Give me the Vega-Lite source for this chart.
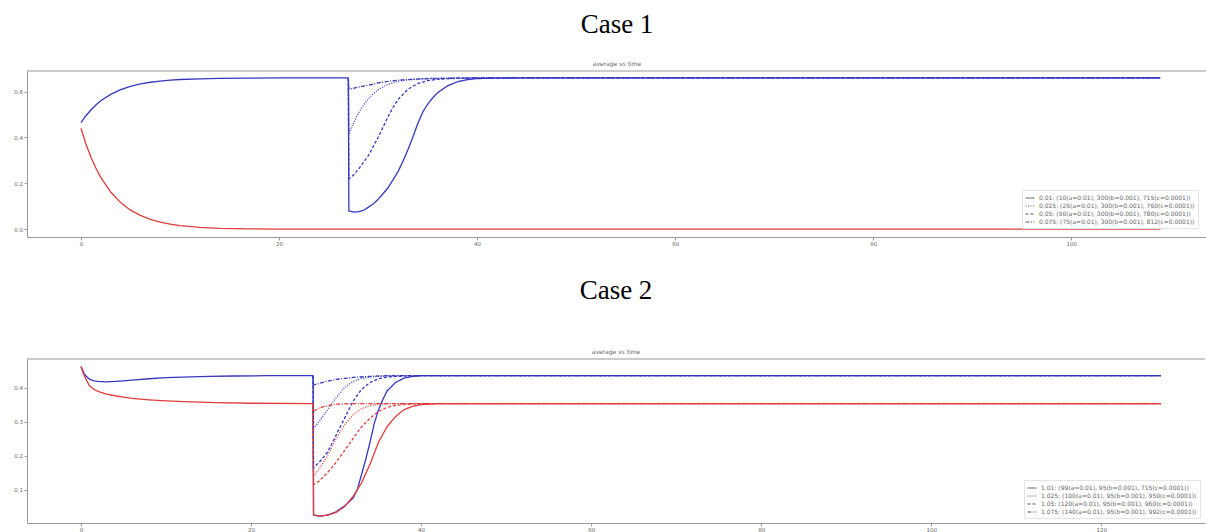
{
  "$schema": "https://vega.github.io/schema/vega-lite/v6.json",
  "background": "white",
  "padding": {"left": 13, "top": 10, "right": 0, "bottom": 0},
  "spacing": 29,
  "config": {
    "view": {"stroke": null},
    "axis": {"grid": false, "title": null, "domainColor": "#999", "tickColor": "#999", "labelColor": "#666", "labelFont": "DejaVu Sans", "labelFontSize": 5.5, "tickSize": 3, "labelPadding": 1.5},
    "legend": {"orient": "bottom-right", "title": null, "labelFont": "DejaVu Sans", "labelFontSize": 6, "labelColor": "#666", "symbolType": "stroke", "symbolSize": 81, "symbolStrokeColor": "#555", "symbolStrokeWidth": 1, "rowPadding": 0, "strokeColor": "#e4e4e4", "padding": 3, "offset": 6, "labelLimit": 400},
    "title": {"font": "Liberation Serif", "fontSize": 27, "fontWeight": "normal", "color": "black", "subtitleFont": "DejaVu Sans", "subtitleFontSize": 6, "subtitleColor": "#666", "subtitlePadding": 22, "offset": 3, "anchor": "middle", "frame": "group"}
  },
  "resolve": {"scale": {"x": "independent", "y": "independent", "color": "independent", "strokeDash": "independent"}, "legend": {"strokeDash": "independent"}},
  "datasets": {
    "base1": [
      {"g":"b","t":0,"v":0.465},{"g":"b","t":0.5,"v":0.495},{"g":"b","t":1,"v":0.52},{"g":"b","t":1.5,"v":0.542},{"g":"b","t":2,"v":0.56},{"g":"b","t":3,"v":0.588},{"g":"b","t":4,"v":0.609},{"g":"b","t":5,"v":0.623},{"g":"b","t":6,"v":0.634},{"g":"b","t":7,"v":0.641},{"g":"b","t":8,"v":0.646},{"g":"b","t":9,"v":0.65},{"g":"b","t":10,"v":0.653},{"g":"b","t":12,"v":0.656},{"g":"b","t":14,"v":0.658},{"g":"b","t":17,"v":0.659},{"g":"b","t":20,"v":0.66},{"g":"b","t":27,"v":0.66},
      {"g":"r","t":0,"v":0.44},{"g":"r","t":0.5,"v":0.372},{"g":"r","t":1,"v":0.315},{"g":"r","t":1.5,"v":0.267},{"g":"r","t":2,"v":0.226},{"g":"r","t":3,"v":0.162},{"g":"r","t":4,"v":0.116},{"g":"r","t":5,"v":0.083},{"g":"r","t":6,"v":0.06},{"g":"r","t":7,"v":0.043},{"g":"r","t":8,"v":0.031},{"g":"r","t":9,"v":0.022},{"g":"r","t":10,"v":0.016},{"g":"r","t":12,"v":0.008},{"g":"r","t":14,"v":0.004},{"g":"r","t":17,"v":0.0015},{"g":"r","t":20,"v":0.0005},{"g":"r","t":27,"v":0},{"g":"r","t":60,"v":0},{"g":"r","t":109,"v":0}
    ],
    "scen1": [
      {"g":"b","s":"a","t":27,"v":0.66},{"g":"b","s":"a","t":27.05,"v":0.08},{"g":"b","s":"a","t":27.5,"v":0.075},{"g":"b","s":"a","t":28,"v":0.076},{"g":"b","s":"a","t":28.5,"v":0.082},{"g":"b","s":"a","t":29,"v":0.095},{"g":"b","s":"a","t":29.5,"v":0.11},{"g":"b","s":"a","t":30,"v":0.13},{"g":"b","s":"a","t":30.5,"v":0.155},{"g":"b","s":"a","t":31,"v":0.18},{"g":"b","s":"a","t":31.5,"v":0.215},{"g":"b","s":"a","t":32,"v":0.25},{"g":"b","s":"a","t":32.5,"v":0.295},{"g":"b","s":"a","t":33,"v":0.345},{"g":"b","s":"a","t":33.5,"v":0.4},{"g":"b","s":"a","t":34,"v":0.46},{"g":"b","s":"a","t":34.5,"v":0.51},{"g":"b","s":"a","t":35,"v":0.545},{"g":"b","s":"a","t":35.5,"v":0.572},{"g":"b","s":"a","t":36,"v":0.595},{"g":"b","s":"a","t":37,"v":0.625},{"g":"b","s":"a","t":38,"v":0.643},{"g":"b","s":"a","t":39,"v":0.652},{"g":"b","s":"a","t":40,"v":0.657},{"g":"b","s":"a","t":42,"v":0.659},{"g":"b","s":"a","t":45,"v":0.66},{"g":"b","s":"a","t":109,"v":0.66},
      {"g":"b","s":"b","t":27,"v":0.66},{"g":"b","s":"b","t":27.05,"v":0.42},{"g":"b","s":"b","t":27.5,"v":0.46},{"g":"b","s":"b","t":28,"v":0.505},{"g":"b","s":"b","t":28.5,"v":0.54},{"g":"b","s":"b","t":29,"v":0.568},{"g":"b","s":"b","t":29.5,"v":0.59},{"g":"b","s":"b","t":30,"v":0.608},{"g":"b","s":"b","t":31,"v":0.632},{"g":"b","s":"b","t":32,"v":0.645},{"g":"b","s":"b","t":33,"v":0.652},{"g":"b","s":"b","t":35,"v":0.658},{"g":"b","s":"b","t":38,"v":0.66},{"g":"b","s":"b","t":109,"v":0.66},
      {"g":"b","s":"c","t":27,"v":0.66},{"g":"b","s":"c","t":27.05,"v":0.22},{"g":"b","s":"c","t":27.5,"v":0.235},{"g":"b","s":"c","t":28,"v":0.26},{"g":"b","s":"c","t":28.5,"v":0.29},{"g":"b","s":"c","t":29,"v":0.32},{"g":"b","s":"c","t":29.5,"v":0.36},{"g":"b","s":"c","t":30,"v":0.4},{"g":"b","s":"c","t":30.5,"v":0.445},{"g":"b","s":"c","t":31,"v":0.49},{"g":"b","s":"c","t":31.5,"v":0.53},{"g":"b","s":"c","t":32,"v":0.565},{"g":"b","s":"c","t":33,"v":0.61},{"g":"b","s":"c","t":34,"v":0.635},{"g":"b","s":"c","t":35,"v":0.648},{"g":"b","s":"c","t":36,"v":0.654},{"g":"b","s":"c","t":38,"v":0.658},{"g":"b","s":"c","t":40,"v":0.66},{"g":"b","s":"c","t":109,"v":0.66},
      {"g":"b","s":"d","t":27,"v":0.66},{"g":"b","s":"d","t":27.05,"v":0.61},{"g":"b","s":"d","t":28,"v":0.62},{"g":"b","s":"d","t":29,"v":0.628},{"g":"b","s":"d","t":30,"v":0.638},{"g":"b","s":"d","t":31,"v":0.645},{"g":"b","s":"d","t":32,"v":0.65},{"g":"b","s":"d","t":34,"v":0.655},{"g":"b","s":"d","t":37,"v":0.658},{"g":"b","s":"d","t":40,"v":0.66},{"g":"b","s":"d","t":109,"v":0.66}
    ],
    "base2": [
      {"g":"b","t":0,"v":0.462},{"g":"b","t":0.3,"v":0.445},{"g":"b","t":0.6,"v":0.433},{"g":"b","t":1,"v":0.425},{"g":"b","t":1.5,"v":0.42},{"g":"b","t":2,"v":0.418},{"g":"b","t":3,"v":0.417},{"g":"b","t":4,"v":0.418},{"g":"b","t":5,"v":0.42},{"g":"b","t":6,"v":0.422},{"g":"b","t":8,"v":0.426},{"g":"b","t":10,"v":0.429},{"g":"b","t":12,"v":0.431},{"g":"b","t":15,"v":0.433},{"g":"b","t":18,"v":0.434},{"g":"b","t":22,"v":0.435},{"g":"b","t":27.3,"v":0.435},
      {"g":"r","t":0,"v":0.462},{"g":"r","t":0.3,"v":0.44},{"g":"r","t":0.6,"v":0.424},{"g":"r","t":1,"v":0.405},{"g":"r","t":1.5,"v":0.395},{"g":"r","t":2,"v":0.389},{"g":"r","t":3,"v":0.381},{"g":"r","t":4,"v":0.376},{"g":"r","t":5,"v":0.372},{"g":"r","t":6,"v":0.368},{"g":"r","t":8,"v":0.364},{"g":"r","t":10,"v":0.361},{"g":"r","t":13,"v":0.358},{"g":"r","t":16,"v":0.356},{"g":"r","t":20,"v":0.354},{"g":"r","t":27.3,"v":0.353}
    ],
    "scen2": [
      {"g":"b","s":"a","t":27.3,"v":0.435},{"g":"b","s":"a","t":27.35,"v":0.026},{"g":"b","s":"a","t":28,"v":0.022},{"g":"b","s":"a","t":29,"v":0.025},{"g":"b","s":"a","t":30,"v":0.035},{"g":"b","s":"a","t":31,"v":0.052},{"g":"b","s":"a","t":32,"v":0.075},{"g":"b","s":"a","t":32.5,"v":0.1},{"g":"b","s":"a","t":33,"v":0.145},{"g":"b","s":"a","t":33.5,"v":0.19},{"g":"b","s":"a","t":34,"v":0.24},{"g":"b","s":"a","t":34.5,"v":0.295},{"g":"b","s":"a","t":35,"v":0.335},{"g":"b","s":"a","t":35.5,"v":0.365},{"g":"b","s":"a","t":36,"v":0.39},{"g":"b","s":"a","t":37,"v":0.415},{"g":"b","s":"a","t":38,"v":0.428},{"g":"b","s":"a","t":39,"v":0.433},{"g":"b","s":"a","t":40,"v":0.435},{"g":"b","s":"a","t":127,"v":0.435},
      {"g":"r","s":"a","t":27.3,"v":0.353},{"g":"r","s":"a","t":27.35,"v":0.026},{"g":"r","s":"a","t":28,"v":0.022},{"g":"r","s":"a","t":29,"v":0.025},{"g":"r","s":"a","t":30,"v":0.033},{"g":"r","s":"a","t":31,"v":0.05},{"g":"r","s":"a","t":32,"v":0.08},{"g":"r","s":"a","t":33,"v":0.12},{"g":"r","s":"a","t":34,"v":0.175},{"g":"r","s":"a","t":35,"v":0.24},{"g":"r","s":"a","t":36,"v":0.285},{"g":"r","s":"a","t":37,"v":0.315},{"g":"r","s":"a","t":38,"v":0.335},{"g":"r","s":"a","t":39,"v":0.345},{"g":"r","s":"a","t":40,"v":0.35},{"g":"r","s":"a","t":42,"v":0.353},{"g":"r","s":"a","t":127,"v":0.353},
      {"g":"b","s":"b","t":27.3,"v":0.435},{"g":"b","s":"b","t":27.35,"v":0.28},{"g":"b","s":"b","t":28,"v":0.3},{"g":"b","s":"b","t":29,"v":0.335},{"g":"b","s":"b","t":30,"v":0.37},{"g":"b","s":"b","t":31,"v":0.4},{"g":"b","s":"b","t":32,"v":0.418},{"g":"b","s":"b","t":33,"v":0.427},{"g":"b","s":"b","t":34,"v":0.431},{"g":"b","s":"b","t":36,"v":0.434},{"g":"b","s":"b","t":38,"v":0.435},{"g":"b","s":"b","t":127,"v":0.435},
      {"g":"r","s":"b","t":27.3,"v":0.353},{"g":"r","s":"b","t":27.35,"v":0.14},{"g":"r","s":"b","t":28,"v":0.16},{"g":"r","s":"b","t":29,"v":0.2},{"g":"r","s":"b","t":30,"v":0.25},{"g":"r","s":"b","t":31,"v":0.29},{"g":"r","s":"b","t":32,"v":0.32},{"g":"r","s":"b","t":33,"v":0.338},{"g":"r","s":"b","t":34,"v":0.347},{"g":"r","s":"b","t":35,"v":0.351},{"g":"r","s":"b","t":37,"v":0.353},{"g":"r","s":"b","t":127,"v":0.353},
      {"g":"b","s":"c","t":27.3,"v":0.435},{"g":"b","s":"c","t":27.35,"v":0.165},{"g":"b","s":"c","t":28,"v":0.18},{"g":"b","s":"c","t":29,"v":0.21},{"g":"b","s":"c","t":30,"v":0.26},{"g":"b","s":"c","t":31,"v":0.31},{"g":"b","s":"c","t":32,"v":0.36},{"g":"b","s":"c","t":33,"v":0.395},{"g":"b","s":"c","t":34,"v":0.415},{"g":"b","s":"c","t":35,"v":0.426},{"g":"b","s":"c","t":36,"v":0.431},{"g":"b","s":"c","t":38,"v":0.434},{"g":"b","s":"c","t":40,"v":0.435},{"g":"b","s":"c","t":127,"v":0.435},
      {"g":"r","s":"c","t":27.3,"v":0.353},{"g":"r","s":"c","t":27.35,"v":0.115},{"g":"r","s":"c","t":28,"v":0.125},{"g":"r","s":"c","t":29,"v":0.15},{"g":"r","s":"c","t":30,"v":0.18},{"g":"r","s":"c","t":31,"v":0.215},{"g":"r","s":"c","t":32,"v":0.25},{"g":"r","s":"c","t":33,"v":0.285},{"g":"r","s":"c","t":34,"v":0.31},{"g":"r","s":"c","t":35,"v":0.33},{"g":"r","s":"c","t":36,"v":0.342},{"g":"r","s":"c","t":37,"v":0.348},{"g":"r","s":"c","t":39,"v":0.352},{"g":"r","s":"c","t":41,"v":0.353},{"g":"r","s":"c","t":127,"v":0.353},
      {"g":"b","s":"d","t":27.3,"v":0.435},{"g":"b","s":"d","t":27.35,"v":0.408},{"g":"b","s":"d","t":28,"v":0.412},{"g":"b","s":"d","t":29,"v":0.419},{"g":"b","s":"d","t":30,"v":0.424},{"g":"b","s":"d","t":31,"v":0.427},{"g":"b","s":"d","t":32,"v":0.43},{"g":"b","s":"d","t":34,"v":0.433},{"g":"b","s":"d","t":36,"v":0.435},{"g":"b","s":"d","t":127,"v":0.435},
      {"g":"r","s":"d","t":27.3,"v":0.353},{"g":"r","s":"d","t":27.35,"v":0.33},{"g":"r","s":"d","t":28,"v":0.34},{"g":"r","s":"d","t":29,"v":0.347},{"g":"r","s":"d","t":30,"v":0.351},{"g":"r","s":"d","t":32,"v":0.353},{"g":"r","s":"d","t":127,"v":0.353}
    ]
  },
  "vconcat": [
    {
      "title": {"text": "Case 1", "subtitle": "average vs time"},
      "width": 1180,
      "height": 166,
      "layer": [
        {
          "data": {"values": [{}]},
          "mark": {"type": "rule", "color": "#999", "strokeWidth": 1},
          "encoding": {"y": {"datum": 0.69, "type": "quantitative", "scale": {"domain": [-0.034, 0.69], "nice": false, "zero": false}}}
        },
        {
          "data": {"name": "base1"},
          "mark": {"type": "line", "strokeWidth": 1.3},
          "encoding": {
            "x": {"field": "t", "type": "quantitative", "scale": {"domain": [-5.45, 113.7], "nice": false, "zero": false}, "axis": {"values": [0, 20, 40, 60, 80, 100], "format": "d"}},
            "y": {"field": "v", "type": "quantitative", "scale": {"domain": [-0.034, 0.69], "nice": false, "zero": false}, "axis": {"values": [0, 0.1, 0.2, 0.3, 0.4, 0.5, 0.6], "format": ".1f"}},
            "color": {"field": "g", "type": "nominal", "scale": {"domain": ["b", "r"], "range": ["#3636c0", "#e03c3c"]}, "legend": null},
            "order": {"field": "t", "type": "quantitative"}
          }
        },
        {
          "data": {"name": "scen1"},
          "mark": {"type": "line", "strokeWidth": 1.3},
          "encoding": {
            "x": {"field": "t", "type": "quantitative"},
            "y": {"field": "v", "type": "quantitative"},
            "color": {"field": "g", "type": "nominal", "legend": null},
            "strokeDash": {"field": "s", "type": "nominal", "scale": {"domain": ["a", "b", "c", "d"], "range": [[1, 0], [1, 1.5], [3, 2], [4, 1.5, 1, 1.5]]},
              "legend": {"offset": 9, "labelExpr": "datum.value == 'a' ? '0.01: (10(a=0.01), 300(b=0.001), 715(c=0.0001))' : datum.value == 'b' ? '0.025: (25(a=0.01), 300(b=0.001), 760(c=0.0001))' : datum.value == 'c' ? '0.05: (50(a=0.01), 300(b=0.001), 780(c=0.0001))' : '0.075: (75(a=0.01), 300(b=0.001), 812(c=0.0001))'"}},
            "order": {"field": "t", "type": "quantitative"}
          }
        }
      ]
    },
    {
      "title": {"text": "Case 2", "subtitle": "average vs time", "subtitlePadding": 44},
      "width": 1178,
      "height": 164,
      "layer": [
        {
          "data": {"values": [{}]},
          "mark": {"type": "rule", "color": "#999", "strokeWidth": 1},
          "encoding": {"y": {"datum": 0.484, "type": "quantitative", "scale": {"domain": [0.002, 0.484], "nice": false, "zero": false}}}
        },
        {
          "data": {"name": "base2"},
          "mark": {"type": "line", "strokeWidth": 1.3},
          "encoding": {
            "x": {"field": "t", "type": "quantitative", "scale": {"domain": [-6.35, 132.2], "nice": false, "zero": false}, "axis": {"values": [0, 20, 40, 60, 80, 100, 120], "format": "d", "labelPadding": 1}},
            "y": {"field": "v", "type": "quantitative", "scale": {"domain": [0.002, 0.484], "nice": false, "zero": false}, "axis": {"values": [0, 0.1, 0.2, 0.3, 0.4], "format": ".1f"}},
            "color": {"field": "g", "type": "nominal", "scale": {"domain": ["b", "r"], "range": ["#3636c0", "#e03c3c"]}, "legend": null},
            "order": {"field": "t", "type": "quantitative"}
          }
        },
        {
          "data": {"name": "scen2"},
          "mark": {"type": "line", "strokeWidth": 1.3},
          "encoding": {
            "x": {"field": "t", "type": "quantitative"},
            "y": {"field": "v", "type": "quantitative"},
            "color": {"field": "g", "type": "nominal", "legend": null},
            "strokeDash": {"field": "s", "type": "nominal", "scale": {"domain": ["a", "b", "c", "d"], "range": [[1, 0], [1, 1.5], [3, 2], [4, 1.5, 1, 1.5]]},
              "legend": {"offset": 5, "labelExpr": "datum.value == 'a' ? '1.01: (99(a=0.01), 95(b=0.001), 715(c=0.0001))' : datum.value == 'b' ? '1.025: (100(a=0.01), 95(b=0.001), 950(c=0.0001))' : datum.value == 'c' ? '1.05: (120(a=0.01), 95(b=0.001), 960(c=0.0001))' : '1.075: (140(a=0.01), 95(b=0.001), 992(c=0.0001))'"}},
            "order": {"field": "t", "type": "quantitative"}
          }
        }
      ]
    }
  ]
}
